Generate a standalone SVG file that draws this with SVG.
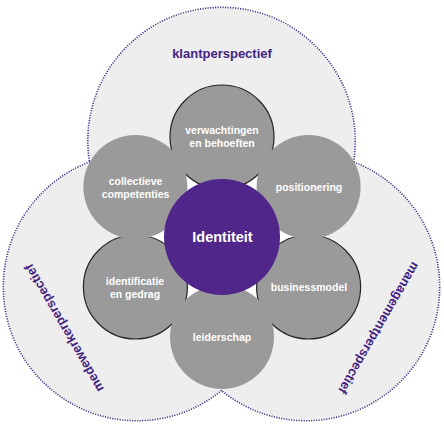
<svg xmlns="http://www.w3.org/2000/svg" width="444" height="426" viewBox="0 0 444 426">
<style>
.ring{fill:none;stroke:#4a3286;stroke-width:3;stroke-dasharray:1.2 1.3}
.ringfill{fill:#eeeeee}
.petal{fill:#9a9a9a}
.petal-ol{fill:#9a9a9a;stroke:#262626;stroke-width:1.2}
.lbl{font-family:"Liberation Sans",Arial,sans-serif;font-weight:bold;font-size:10.5px;fill:#ffffff;text-anchor:middle}
.persp{font-family:"Liberation Sans",Arial,sans-serif;font-weight:bold;font-size:13px;fill:#45237f;text-anchor:middle}
.core{font-family:"Liberation Sans",Arial,sans-serif;font-weight:bold;font-size:14.5px;fill:#ffffff;text-anchor:middle}
</style>
<rect width="444" height="426" fill="#ffffff"/>
<g id="perspectives">
<circle class="ring" cx="221.5" cy="141" r="133"/>
<circle class="ring" cx="137" cy="287" r="133"/>
<circle class="ring" cx="306" cy="287" r="133"/>
<circle class="ringfill" cx="221.5" cy="141" r="133"/>
<circle class="ringfill" cx="137" cy="287" r="133"/>
<circle class="ringfill" cx="306" cy="287" r="133"/>
</g>
<g id="klantperspectief"><text class="persp" x="222" y="58">klantperspectief</text></g>
<g id="medewerkerperspectief"><text class="persp" transform="translate(64,328) rotate(-120)" x="0" y="4.5">medewerkerperspectief</text></g>
<g id="managementperspectief"><text class="persp" transform="translate(379,328) rotate(120)" x="0" y="4.5">managementperspectief</text></g>
<circle cx="222" cy="237" r="78" fill="#ffffff"/>
<g id="verwachtingen">
<circle class="petal-ol" cx="222" cy="137" r="52"/>
<text class="lbl" x="222" y="134">verwachtingen</text>
<text class="lbl" x="222" y="147">en behoeften</text>
</g>
<g id="identificatie">
<circle class="petal-ol" cx="135.4" cy="287" r="52"/>
</g>
<g id="businessmodel">
<circle class="petal-ol" cx="308.6" cy="287" r="52"/>
</g>
<g id="collectieve">
<circle class="petal" cx="135.4" cy="187" r="52"/>
<text class="lbl" x="135.5" y="185">collectieve</text>
<text class="lbl" x="135.5" y="198">competenties</text>
</g>
<g id="positionering">
<circle class="petal" cx="308.6" cy="187" r="52"/>
<text class="lbl" x="309" y="191">positionering</text>
</g>
<g id="leiderschap">
<circle class="petal" cx="222" cy="337" r="52"/>
<text class="lbl" x="222" y="341">leiderschap</text>
</g>
<g id="identificatie-label">
<text class="lbl" x="135" y="285">identificatie</text>
<text class="lbl" x="135" y="298">en gedrag</text>
</g>
<g id="businessmodel-label">
<text class="lbl" x="309" y="291">businessmodel</text>
</g>
<g id="identiteit">
<circle cx="222" cy="237" r="58" fill="#50268a"/>
<text class="core" x="222.5" y="242">Identiteit</text>
</g>
<g id="connectors"/>
</svg>
